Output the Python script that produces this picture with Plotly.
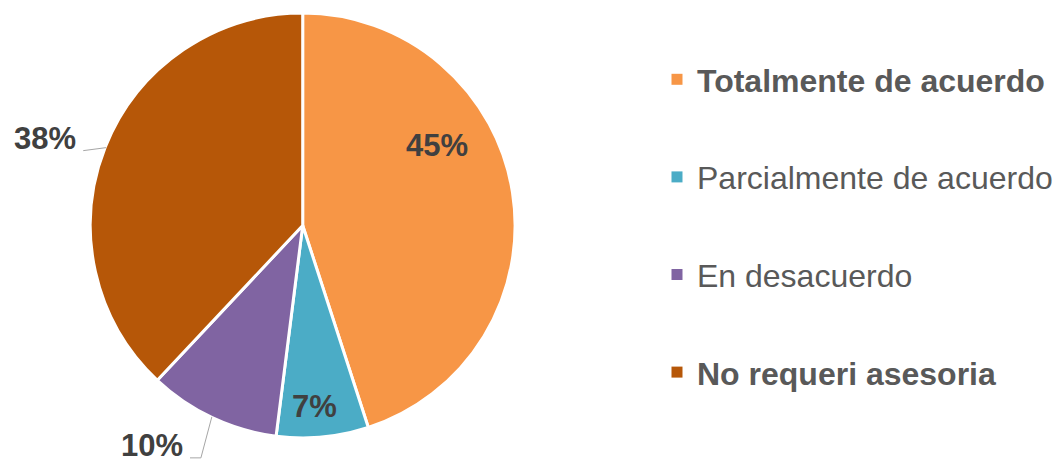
import math
import plotly.graph_objects as go

# data
labels = ["Totalmente de acuerdo", "Parcialmente de acuerdo", "En desacuerdo", "No requeri asesoria"]
values = [45, 7, 10, 38]
colors = ["#F79646", "#4BACC6", "#8064A2", "#B65708"]
bold_legend = [True, False, False, True]

W, H = 1058, 462
CX, CY, R = 303.5, 225.5, 211.5   # pie centre / radius in px
TXT = "#404040"

def px(x, y):
    return x / W, 1 - y / H

# label placement: (angle shift from slice middle, radius fraction) for inside,
# leader-line offsets for outside ones
inside_pos = {0: (-21.2, 0.75), 1: (1.0, 0.856)}
outside_pos = {2: [(-11, 41), (-11, 0)], 3: [(-23, 3)]}

# plotly draws the pie a touch smaller than its domain, so pad it a little
DX, DR = 1.5, 2.5
fig = go.Figure()
fig.add_trace(go.Pie(
    labels=labels, values=values, sort=False, direction="clockwise", rotation=0,
    marker=dict(colors=colors, line=dict(color="white", width=3)),
    textinfo="none", hoverinfo="label+percent", showlegend=False,
    domain=dict(x=[(CX + DX - R - DR) / W, (CX + DX + R + DR) / W],
                y=[1 - (CY + R + DR) / H, 1 - (CY - R - DR) / H])))

# legend via dummy traces so the entries can be spaced out
for i, (lab, col) in enumerate(zip(labels, colors)):
    name = f"<b>{lab}</b>" if bold_legend[i] else lab
    fig.add_trace(go.Scatter(x=[None], y=[None], mode="markers", name=name,
                             legendgroup=str(i),
                             marker=dict(symbol="square", size=11, color=col)))

total = sum(values)
start = 0.0
shapes, annos = [], []
for i, v in enumerate(values):
    ang = v / total * 360
    mid = start + ang / 2
    start += ang
    pct = f"<b>{round(v / total * 100)}%</b>"
    if i in inside_pos:
        da, rf = inside_pos[i]
        a = math.radians(mid + da)
        x, y = px(CX + rf * R * math.sin(a), CY - rf * R * math.cos(a))
        annos.append(dict(x=x, y=y, xref="paper", yref="paper", text=pct,
                          showarrow=False, xanchor="center", yanchor="middle",
                          font=dict(size=31, color=TXT)))
    else:
        a = math.radians(mid)
        pts = [(CX + R * math.sin(a), CY - R * math.cos(a))]
        for dx, dy in outside_pos[i]:
            pts.append((pts[-1][0] + dx, pts[-1][1] + dy))
        path = "M " + " L ".join(f"{px(*p)[0]},{px(*p)[1]}" for p in pts)
        shapes.append(dict(type="path", xref="paper", yref="paper", path=path,
                           line=dict(color="#A6A6A6", width=1)))
        ex, ey = pts[-1]
        x, y = px(ex - 5, ey - 12)
        annos.append(dict(x=x, y=y, xref="paper", yref="paper", text=pct,
                          showarrow=False, xanchor="right", yanchor="middle",
                          font=dict(size=31, color=TXT)))

fig.update_layout(
    width=W, height=H, margin=dict(l=0, r=0, t=0, b=0),
    paper_bgcolor="white", plot_bgcolor="white",
    font=dict(family="Liberation Sans, Arial, sans-serif"),
    xaxis=dict(visible=False), yaxis=dict(visible=False),
    shapes=shapes, annotations=annos,
    legend=dict(x=662 / W, y=1 - 52 / H, xanchor="left", yanchor="top",
                font=dict(size=32, color="#595959"), tracegroupgap=53,
                itemclick=False, bgcolor="rgba(0,0,0,0)"))
# the page body has a default 8px margin; drop it so the figure fills the window
fig.write_html("out.html", config={"displayModeBar": False},
               post_script="document.body.style.margin='0';")
